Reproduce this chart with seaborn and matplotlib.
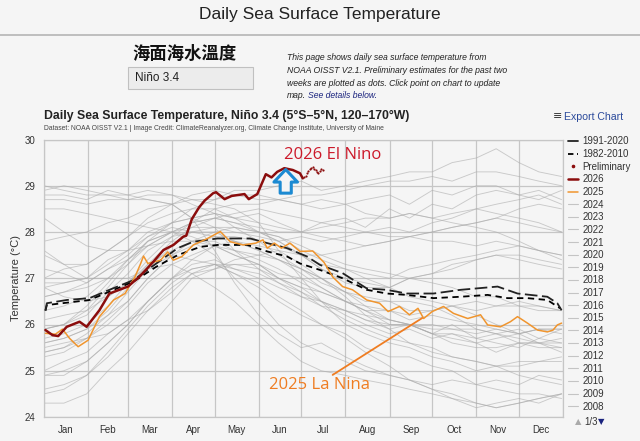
import matplotlib
matplotlib.use("Agg")
import matplotlib.pyplot as plt
from matplotlib.lines import Line2D
from matplotlib.patches import Rectangle, FancyArrowPatch
import seaborn as sns
import pandas as pd

sns.set_style("white")
plt.rcParams['font.family'] = ['Liberation Sans', 'Noto Sans CJK TC', 'DejaVu Sans']

# ---------------- data ----------------
months = ["Jan", "Feb", "Mar", "Apr", "May", "Jun", "Jul", "Aug", "Sep", "Oct", "Nov", "Dec"]
month_starts = [1, 32, 60, 91, 121, 152, 182, 213, 244, 274, 305, 335, 366]
y_ticks = [24, 25, 26, 27, 28, 29, 30]

days_2026 = [2, 7, 11, 17, 26, 31, 40, 47, 54, 60, 68, 78, 85, 92, 99, 101, 105, 110, 114, 120, 122,
             128, 133, 142, 145, 151, 157, 161, 165, 170, 176, 181, 183]
temp_2026 = [25.88, 25.77, 25.75, 25.95, 26.06, 25.95, 26.31, 26.67, 26.75, 26.82, 27.03, 27.36, 27.61,
             27.72, 27.90, 27.92, 28.28, 28.53, 28.68, 28.84, 28.86, 28.71, 28.78, 28.82, 28.71, 28.82,
             29.25, 29.18, 29.30, 29.38, 29.34, 29.27, 29.16]

days_prelim = [184, 185, 186, 187, 188, 189, 190, 191, 192, 193, 194, 195, 196, 197]
temp_prelim = [29.18, 29.22, 29.27, 29.31, 29.36, 29.39, 29.40, 29.37, 29.33, 29.29, 29.28, 29.32, 29.37, 29.33]

days_2025 = [2, 9, 14, 19, 25, 32, 40, 50, 58, 65, 69, 71, 74, 83, 88, 92, 98, 106, 116, 125, 132, 141,
             150, 155, 158, 163, 168, 174, 181, 190, 198, 204, 211, 218, 228, 237, 243, 251, 258, 264,
             268, 274, 282, 289, 299, 308, 313, 322, 329, 334, 341, 348, 355, 359, 362, 365]
temp_2025 = [25.81, 25.79, 25.90, 25.70, 25.52, 25.66, 26.17, 26.53, 26.67, 27.03, 27.32, 27.48, 27.32,
             27.39, 27.57, 27.39, 27.47, 27.72, 27.86, 28.01, 27.79, 27.72, 27.76, 27.83, 27.65, 27.76,
             27.65, 27.76, 27.58, 27.59, 27.34, 27.03, 26.82, 26.75, 26.53, 26.46, 26.28, 26.39, 26.21,
             26.35, 26.13, 26.28, 26.39, 26.24, 26.13, 26.21, 25.99, 25.95, 26.06, 26.17, 26.03, 25.88,
             25.84, 25.88, 25.99, 26.03]

days_9120 = [2, 3, 17, 33, 47, 64, 80, 95, 106, 123, 146, 158, 172, 186, 195, 211, 228, 242, 256, 275,
             294, 320, 334, 355, 362, 365]
temp_9120 = [26.30, 26.46, 26.53, 26.57, 26.75, 26.96, 27.32, 27.65, 27.79, 27.86, 27.86, 27.76, 27.65,
             27.47, 27.29, 27.11, 26.78, 26.75, 26.67, 26.67, 26.75, 26.82, 26.67, 26.60, 26.46, 26.31]

days_8210 = [2, 3, 33, 64, 80, 95, 111, 123, 144, 158, 172, 181, 195, 211, 228, 242, 256, 275, 294, 313,
             327, 341, 355, 364]
temp_8210 = [26.30, 26.42, 26.53, 26.93, 27.25, 27.50, 27.68, 27.72, 27.72, 27.58, 27.47, 27.32, 27.18,
             27.00, 26.75, 26.67, 26.64, 26.57, 26.60, 26.64, 26.57, 26.57, 26.53, 26.35]

grey_days = [1, 15, 31, 46, 60, 74, 91, 105, 121, 135, 152, 166, 182, 196, 213, 227, 244, 258, 274, 288,
             305, 319, 335, 349, 365]
grey_years = {
    2024: [28.3, 28.0, 27.7, 27.6, 27.6, 27.7, 27.8, 27.8, 27.7, 27.5, 27.3, 27.0, 26.8, 26.7, 26.5, 26.3, 26.3, 26.1, 26.2, 26.1, 26.0, 25.9, 25.8, 25.9, 25.9],
    2023: [25.9, 26.0, 26.4, 26.9, 27.4, 27.8, 28.0, 28.2, 28.5, 28.6, 28.6, 28.7, 28.6, 28.7, 28.6, 28.7, 28.8, 28.6, 28.9, 28.8, 29.0, 29.0, 28.8, 28.9, 28.7],
    2022: [25.5, 25.6, 25.7, 25.8, 26.1, 26.3, 26.8, 27.1, 27.3, 27.3, 27.2, 27.0, 26.8, 26.5, 26.2, 26.0, 25.8, 25.9, 25.7, 25.8, 25.6, 25.7, 25.8, 25.9, 25.9],
    2021: [25.3, 25.4, 25.7, 26.0, 26.4, 26.9, 27.3, 27.5, 27.7, 27.6, 27.5, 27.4, 27.2, 27.0, 26.7, 26.4, 26.1, 26.0, 25.8, 25.7, 25.6, 25.4, 25.6, 25.5, 25.5],
    2020: [26.6, 26.7, 26.8, 27.0, 27.3, 27.7, 28.0, 27.9, 27.7, 27.5, 27.3, 27.0, 26.7, 26.4, 26.1, 25.9, 25.7, 25.6, 25.4, 25.3, 25.2, 25.1, 25.1, 25.2, 25.2],
    2019: [27.0, 27.2, 27.3, 27.6, 27.9, 28.2, 28.4, 28.5, 28.5, 28.3, 28.0, 27.8, 27.5, 27.2, 27.0, 26.9, 26.8, 27.0, 27.1, 27.2, 27.4, 27.5, 27.4, 27.3, 27.2],
    2018: [25.6, 25.7, 25.9, 26.2, 26.5, 27.0, 27.5, 27.8, 28.0, 28.1, 28.0, 27.9, 27.6, 27.4, 27.2, 27.1, 27.0, 27.2, 27.3, 27.4, 27.5, 27.6, 27.7, 27.6, 27.4],
    2017: [25.9, 26.0, 26.2, 26.7, 27.1, 27.6, 27.9, 28.0, 28.0, 27.8, 27.6, 27.4, 27.1, 26.8, 26.5, 26.3, 26.1, 26.0, 25.8, 25.8, 25.7, 25.6, 25.5, 25.7, 25.6],
    2016: [29.0, 28.9, 28.8, 28.8, 28.7, 28.7, 28.6, 28.3, 28.1, 27.6, 27.2, 26.9, 26.6, 26.4, 26.3, 26.1, 25.9, 26.0, 25.8, 26.0, 25.7, 25.8, 25.9, 25.7, 25.9],
    2015: [27.5, 27.3, 27.3, 27.6, 27.9, 28.3, 28.6, 28.8, 28.9, 28.8, 28.8, 28.7, 28.8, 28.8, 28.9, 29.0, 29.1, 29.1, 29.2, 29.1, 29.3, 29.3, 29.2, 29.1, 29.0],
    2014: [25.7, 25.8, 26.0, 26.4, 26.9, 27.4, 27.9, 28.2, 28.3, 28.2, 28.0, 27.8, 27.5, 27.2, 26.9, 26.8, 26.8, 27.0, 27.1, 27.3, 27.4, 27.5, 27.5, 27.4, 27.3],
    2013: [26.1, 26.2, 26.3, 26.6, 26.9, 27.3, 27.6, 27.8, 27.8, 27.6, 27.4, 27.2, 26.9, 26.7, 26.5, 26.4, 26.3, 26.2, 26.3, 26.4, 26.5, 26.4, 26.5, 26.4, 26.3],
    2012: [25.4, 25.5, 25.8, 26.2, 26.7, 27.2, 27.7, 28.0, 28.1, 28.1, 28.0, 27.9, 27.7, 27.5, 27.3, 27.2, 27.1, 27.0, 26.9, 26.8, 26.6, 26.6, 26.4, 26.3, 26.3],
    2011: [24.9, 24.9, 25.2, 25.6, 26.0, 26.5, 27.0, 27.4, 27.7, 27.8, 27.7, 27.6, 27.3, 27.0, 26.6, 26.2, 25.9, 25.6, 25.5, 25.3, 25.2, 25.1, 25.2, 25.2, 25.3],
    2010: [28.5, 28.5, 28.4, 28.3, 28.2, 28.1, 28.0, 27.8, 27.5, 27.0, 26.5, 26.0, 25.6, 25.4, 25.2, 25.0, 24.9, 24.8, 24.7, 24.8, 24.7, 24.8, 24.7, 24.9, 24.8],
    2009: [25.6, 25.7, 25.9, 26.3, 26.8, 27.3, 27.8, 28.1, 28.3, 28.4, 28.5, 28.4, 28.3, 28.2, 28.1, 28.0, 28.1, 28.0, 28.2, 28.3, 28.5, 28.6, 28.7, 28.8, 28.6],
    2008: [24.3, 24.3, 24.5, 25.0, 25.4, 25.9, 26.5, 27.0, 27.2, 27.4, 27.5, 27.6, 27.5, 27.3, 27.2, 27.0, 26.8, 26.6, 26.5, 26.4, 26.2, 26.0, 25.8, 25.6, 25.4],
    2007: [26.8, 26.6, 26.5, 26.6, 26.9, 27.2, 27.5, 27.4, 27.3, 27.1, 26.9, 26.6, 26.3, 26.0, 25.7, 25.4, 25.1, 24.8, 24.6, 24.5, 24.3, 24.2, 24.3, 24.4, 24.5],
    2006: [25.4, 25.5, 25.7, 26.1, 26.5, 27.0, 27.5, 27.7, 27.9, 27.9, 27.8, 27.7, 27.5, 27.5, 27.6, 27.7, 27.8, 27.9, 28.0, 28.1, 28.2, 28.3, 28.2, 28.1, 28.0],
    2005: [27.2, 27.1, 26.9, 27.2, 27.5, 27.9, 28.1, 28.0, 27.9, 27.8, 27.6, 27.4, 27.2, 26.9, 26.7, 26.6, 26.5, 26.5, 26.4, 26.2, 25.9, 25.8, 25.6, 25.6, 25.5],
    2004: [26.6, 26.7, 26.9, 27.2, 27.4, 27.7, 28.0, 28.1, 28.1, 28.0, 27.9, 27.8, 27.9, 27.8, 27.9, 28.0, 27.9, 27.9, 27.8, 27.8, 27.7, 27.8, 27.7, 27.6, 27.5],
    2002: [26.3, 26.4, 26.6, 27.0, 27.4, 27.8, 28.0, 28.2, 28.3, 28.2, 28.1, 28.0, 28.0, 28.1, 28.2, 28.3, 28.3, 28.4, 28.3, 28.4, 28.5, 28.4, 28.3, 28.2, 28.0],
    2000: [24.6, 24.7, 24.9, 25.3, 25.8, 26.3, 26.7, 27.1, 27.2, 27.3, 27.3, 27.1, 27.0, 26.8, 26.5, 26.3, 26.0, 26.0, 25.8, 25.6, 25.5, 25.5, 25.6, 25.6, 25.7],
    1999: [25.0, 25.2, 25.4, 25.8, 26.1, 26.5, 27.0, 27.2, 27.3, 27.1, 26.8, 26.5, 26.2, 26.0, 25.8, 25.5, 25.3, 25.3, 25.1, 25.0, 24.7, 24.6, 24.5, 24.5, 24.4],
    1998: [28.9, 29.0, 28.9, 28.8, 28.8, 28.7, 28.6, 28.3, 27.6, 26.9, 26.2, 25.8, 25.5, 25.6, 25.3, 25.1, 24.9, 24.8, 24.6, 24.4, 24.2, 24.3, 24.4, 24.3, 24.5],
    1997: [25.9, 26.0, 26.3, 26.8, 27.3, 27.8, 28.2, 28.5, 28.7, 28.9, 28.9, 29.0, 29.1, 28.9, 29.0, 29.1, 29.2, 29.3, 29.3, 29.5, 29.6, 29.8, 29.5, 29.3, 29.2],
    1992: [28.7, 28.7, 28.6, 28.7, 28.7, 28.8, 28.8, 28.6, 28.4, 28.1, 27.8, 27.5, 27.2, 27.0, 26.7, 26.5, 26.5, 26.3, 26.3, 26.4, 26.3, 26.4, 26.4, 26.4, 26.3],
    1991: [26.9, 26.9, 27.0, 27.3, 27.6, 28.0, 28.2, 28.3, 28.4, 28.3, 28.2, 28.1, 28.0, 27.9, 27.8, 27.7, 27.8, 27.9, 28.0, 28.1, 28.2, 28.3, 28.5, 28.6, 28.5],
    1989: [24.5, 24.6, 24.9, 25.4, 25.9, 26.4, 26.9, 27.2, 27.3, 27.2, 27.0, 26.8, 26.6, 26.5, 26.3, 26.1, 26.0, 26.0, 25.9, 25.9, 25.8, 25.9, 25.8, 25.9, 25.8],
    1988: [27.6, 27.3, 27.0, 27.0, 27.0, 27.2, 27.3, 27.1, 26.8, 26.5, 26.0, 25.6, 25.2, 25.0, 24.9, 24.8, 24.7, 24.6, 24.5, 24.4, 24.3, 24.2, 24.3, 24.4, 24.5],
    1987: [27.8, 27.9, 28.0, 28.2, 28.3, 28.5, 28.6, 28.7, 28.7, 28.8, 28.7, 28.7, 28.6, 28.5, 28.6, 28.4, 28.3, 28.4, 28.3, 28.2, 28.1, 28.0, 27.8, 27.6, 27.5],
    1985: [24.9, 25.0, 25.2, 25.6, 26.0, 26.5, 27.0, 27.3, 27.4, 27.2, 27.1, 26.9, 26.7, 26.5, 26.3, 26.2, 26.1, 26.0, 26.0, 25.9, 25.9, 25.8, 25.7, 25.6, 25.6],
    1983: [28.8, 28.8, 28.7, 28.9, 28.8, 28.9, 28.8, 28.7, 28.6, 28.5, 28.2, 27.6, 27.0, 26.5, 26.0, 25.8, 25.6, 25.5, 25.3, 25.2, 25.0, 25.1, 24.9, 24.8, 24.7],
    1982: [26.8, 26.9, 27.0, 27.4, 27.6, 27.9, 28.2, 28.3, 28.4, 28.3, 28.4, 28.2, 28.0, 28.2, 28.3, 28.1, 28.5, 28.3, 28.6, 28.5, 28.8, 28.9, 28.8, 28.7, 28.9],
}
legend_years = list(range(2024, 2007, -1))

# ---------------- figure ----------------
BG = "#f5f5f5"
W, H = 640, 441
fig = plt.figure(figsize=(6.4, 4.41), dpi=100)
fig.patch.set_facecolor(BG)


def fx(x):
    return x / W


def fy(y):
    return 1 - y / H


ax = fig.add_axes([fx(44), fy(417), fx(563) - fx(44), fy(139.5) - fy(417)])
ax.set_facecolor(BG)

GREY = "#acacac"
for yr, vals in grey_years.items():
    df = pd.DataFrame({"day": grey_days, "temp": vals})
    sns.lineplot(data=df, x="day", y="temp", ax=ax, color=GREY, lw=0.65, alpha=0.6, zorder=2)

sns.lineplot(x=days_8210, y=temp_8210, ax=ax, color="black", lw=1.3,
             linestyle=(0, (3.5, 2.5)), zorder=4)
sns.lineplot(x=days_9120, y=temp_9120, ax=ax, color="#222222", lw=1.3,
             linestyle=(0, (7, 2.5)), zorder=4)
sns.lineplot(x=days_2025, y=temp_2025, ax=ax, color="#f0952e", lw=1.1, zorder=5)
sns.lineplot(x=days_2026, y=temp_2026, ax=ax, color="#8b0d0d", lw=1.8, zorder=6)
sns.scatterplot(x=days_prelim, y=temp_prelim, ax=ax, color="#8b0d0d", s=2.5, linewidth=0, zorder=6)

ax.set_xlim(1, 366)
ax.set_ylim(24, 30)
ax.set_yticks(y_ticks)
ax.set_yticklabels([str(t) for t in y_ticks])
ax.set_xticks(month_starts)
ax.set_xticklabels([""] * len(month_starts))
mids = [(month_starts[i] + month_starts[i + 1]) / 2 for i in range(12)]
ax.set_xticks(mids, minor=True)
ax.set_xticklabels(months, minor=True)
ax.tick_params(axis="both", which="both", length=0, labelsize=7, colors="#333333", pad=6)
ax.tick_params(axis="x", which="minor", pad=6)
ax.grid(True, which="major", color="#c6c6c6", lw=0.9, zorder=0)
ax.set_axisbelow(True)
for s in ax.spines.values():
    s.set_color("#c6c6c6")
    s.set_linewidth(0.9)
ax.set_xlabel("")
ax.set_ylabel("Temperature (°C)", fontsize=8, color="#333333", labelpad=3)

# annotations
ax.text(170, 29.66, "2026 El Nino", color="#cc1a2b", fontsize=12, family="Open Sans",
        va="center", ha="left", zorder=8)
ax.text(159, 24.69, "2025 La Nina", color="#ef7d22", fontsize=12, family="Open Sans",
        va="center", ha="left", zorder=8)
ax.plot([204, 267], [24.91, 26.14], color="#ef7d22", lw=1.3, zorder=7)
arrow = FancyArrowPatch((171, 28.78), (171, 29.41),
                        arrowstyle="simple,head_length=9,head_width=17,tail_width=8",
                        mutation_scale=1, fc=BG, ec="#1c8ad2", lw=2.2, zorder=8)
ax.add_patch(arrow)

# header texts
fig.text(fx(320), fy(14.5), "Daily Sea Surface Temperature", fontsize=12.5, ha="center", va="center",
         color="#222222")
fig.add_artist(Line2D([0, 1], [fy(34.5), fy(34.5)], color="#b5b5b5", lw=1.2))
fig.text(fx(132), fy(53.5), "海面海水溫度", fontsize=12.5, fontweight="bold", ha="left", va="center",
         color="#111111", family=["Noto Sans CJK TC", "DejaVu Sans"])
fig.add_artist(Rectangle((fx(128), fy(88.5)), fx(253) - fx(128), fy(66.5) - fy(88.5),
                         transform=fig.transFigure, fc="#ececec", ec="#c0c0c0", lw=0.8))
fig.text(fx(135), fy(78), "Niño 3.4", fontsize=8.5, ha="left", va="center", color="#222222")

para = ["This page shows daily sea surface temperature from",
        "NOAA OISST V2.1. Preliminary estimates for the past two",
        "weeks are plotted as dots. Click point on chart to update"]
for i, line in enumerate(para):
    fig.text(fx(287), fy(58 + 12.7 * i), line, fontsize=6.2, style="italic", ha="left",
             va="center", color="#222222")
fig.text(fx(287), fy(96), "map.", fontsize=6.2, style="italic", ha="left", va="center",
         color="#222222")
fig.text(fx(308.5), fy(96), "See details below.", fontsize=6.2, style="italic", ha="left",
         va="center", color="#1a237e")

fig.text(fx(44), fy(116), "Daily Sea Surface Temperature, Niño 3.4 (5°S–5°N, 120–170°W)",
         fontsize=8.8, fontweight="bold", ha="left", va="center", color="#222222")
fig.text(fx(44), fy(129), "Dataset: NOAA OISST V2.1 | Image Credit: ClimateReanalyzer.org, "
         "Climate Change Institute, University of Maine", fontsize=4.9, ha="left", va="center",
         color="#444444")
fig.text(fx(553), fy(116.5), "≡", fontsize=8, ha="left", va="center", color="#333333",
         family="DejaVu Sans")
fig.text(fx(564), fy(116.5), "Export Chart", fontsize=7.6, ha="left", va="center", color="#2b4a9b")

# legend
handles = [Line2D([], [], color="#222222", lw=1.3),
           Line2D([], [], color="black", lw=1.3, linestyle=(0, (3, 2))),
           Line2D([], [], color="#8b0d0d", marker="o", ms=1.6, lw=0),
           Line2D([], [], color="#8b0d0d", lw=1.8),
           Line2D([], [], color="#f0952e", lw=1.1)]
labels = ["1991-2020", "1982-2010", "Preliminary", "2026", "2025"]
for yr in legend_years:
    handles.append(Line2D([], [], color="#c4c4c4", lw=0.8))
    labels.append(str(yr))
leg = fig.legend(handles, labels, loc="upper left", bbox_to_anchor=(fx(568), fy(136.5)),
                 frameon=False, fontsize=7, handlelength=1.0, handletextpad=0.45,
                 labelspacing=0.27, borderaxespad=0, borderpad=0)
for txt in leg.get_texts():
    txt.set_color("#333333")

fig.text(fx(575), fy(422), "▲", fontsize=6, ha="left", va="center", color="#aaaaaa",
         family="DejaVu Sans")
fig.text(fx(584), fy(422), "1/3", fontsize=7, ha="left", va="center", color="#333333")
fig.text(fx(598), fy(422), "▼", fontsize=6, ha="left", va="center", color="#1a237e",
         family="DejaVu Sans")

fig.savefig("out.png", dpi=100, facecolor=BG)
